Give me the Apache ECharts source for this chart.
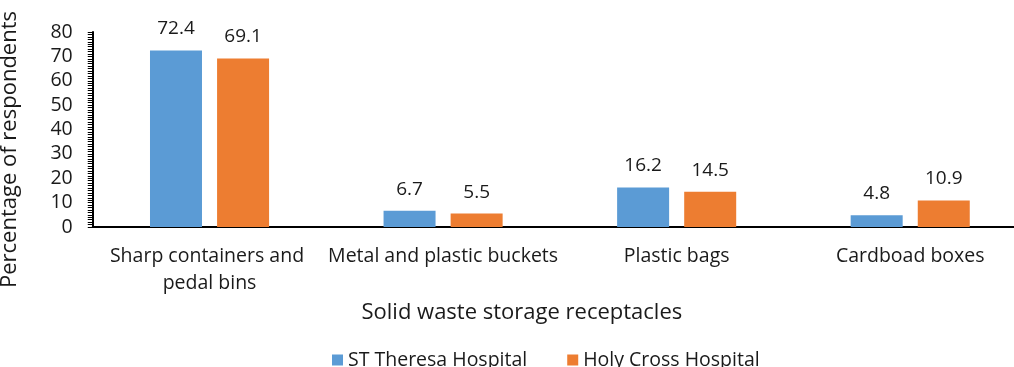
<!DOCTYPE html>
<html>
<head>
<meta charset="utf-8">
<script src="https://cdn.jsdelivr.net/npm/echarts@6/dist/echarts.min.js"></script>
<style>
  html, body { margin: 0; padding: 0; background: #fff; }
  #chart { width: 1014px; height: 367px; }
</style>
</head>
<body>
<div id="chart"></div>
<script>
// Solid waste storage receptacles by hospital (% of respondents)
const categories = [
  'Sharp containers and pedal bins',
  'Metal and plastic buckets',
  'Plastic bags',
  'Cardboad boxes'
];
const stTheresa = [72.4, 6.7, 16.2, 4.8];
const holyCross = [69.1, 5.5, 14.5, 10.9];
const seriesNames = ['ST Theresa Hospital', 'Holy Cross Hospital'];

const FONT = '"Open Sans", "Noto Sans", sans-serif';
const TEXT = '#1a1a1a';

const chart = echarts.init(document.getElementById('chart'), null, { renderer: 'canvas' });

const labelCfg = {
  show: true,
  position: 'top',
  distance: 12,
  color: TEXT,
  fontFamily: FONT,
  fontSize: 19,
  formatter: p => p.value.toFixed(1)
};

chart.setOption({
  animation: false,
  textStyle: { fontFamily: FONT },
  grid: {
    left: 92.75, right: -13, top: 32, bottom: 140,
    containLabel: false,
    outerBoundsMode: 'none'
  },
  legend: {
    top: 345,
    left: 327,
    itemWidth: 11,
    itemHeight: 11,
    itemGap: 40,
    icon: 'rect',
    textStyle: { color: TEXT, fontSize: 19.5, fontFamily: FONT },
    data: seriesNames
  },
  xAxis: {
    type: 'category',
    data: categories,
    name: 'Solid waste storage receptacles',
    nameLocation: 'middle',
    nameGap: 74,
    nameTextStyle: { color: TEXT, fontSize: 22, fontFamily: FONT, padding: [0, 76, 0, 0] },
    axisLine: { show: true, lineStyle: { color: '#000', width: 2 } },
    axisTick: { show: false },
    axisLabel: {
      color: TEXT,
      fontSize: 19.5,
      fontFamily: FONT,
      margin: 16,
      lineHeight: 27,
      width: 236,
      overflow: 'break',
      interval: 0
    }
  },
  yAxis: {
    type: 'value',
    min: 0,
    max: 80,
    interval: 10,
    name: 'Percentage of respondents',
    nameLocation: 'middle',
    nameGap: 72,
    nameTextStyle: { color: TEXT, fontSize: 22, fontFamily: FONT, padding: [0, 40, 0, 0] },
    axisLine: { show: true, lineStyle: { color: '#000', width: 2 } },
    axisTick: { show: true, length: 5, lineStyle: { color: '#000', width: 1 } },
    minorTick: { show: true, splitNumber: 10, length: 5, lineStyle: { color: '#000', width: 1 } },
    splitLine: { show: false },
    axisLabel: { color: TEXT, fontSize: 19.5, fontFamily: FONT, margin: 20 }
  },
  series: [
    {
      name: seriesNames[0],
      type: 'bar',
      data: stTheresa,
      barWidth: 52,
      barGap: '29%',
      itemStyle: { color: '#5B9BD5' },
      label: labelCfg
    },
    {
      name: seriesNames[1],
      type: 'bar',
      data: holyCross,
      barWidth: 52,
      barGap: '29%',
      itemStyle: { color: '#ED7D31' },
      label: labelCfg
    }
  ]
});
</script>
</body>
</html>
